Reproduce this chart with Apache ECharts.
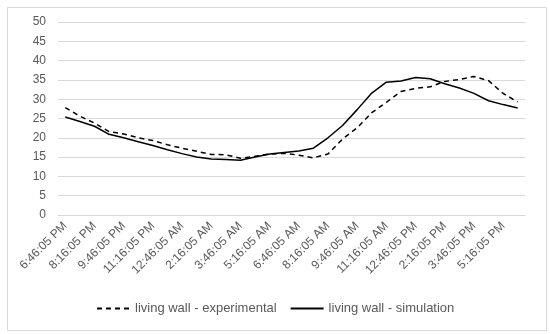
<!DOCTYPE html>
<html>
<head>
<meta charset="utf-8">
<script src="https://cdn.jsdelivr.net/npm/echarts@6/dist/echarts.min.js"></script>
<style>html,body{margin:0;padding:0;background:#fff}#c{width:550px;height:334px}</style>
</head>
<body>
<div id="c"></div>
<script>
const categories = [
  "6:46:05 PM","7:31:05 PM","8:16:05 PM","9:01:05 PM","9:46:05 PM","10:31:05 PM",
  "11:16:05 PM","12:01:05 AM","12:46:05 AM","1:31:05 AM","2:16:05 AM","3:01:05 AM",
  "3:46:05 AM","4:31:05 AM","5:16:05 AM","6:01:05 AM","6:46:05 AM","7:31:05 AM",
  "8:16:05 AM","9:01:05 AM","9:46:05 AM","10:31:05 AM","11:16:05 AM","12:01:05 PM",
  "12:46:05 PM","1:31:05 PM","2:16:05 PM","3:01:05 PM","3:46:05 PM","4:31:05 PM",
  "5:16:05 PM","6:01:05 PM"
];
const experimental = [
  27.8,25.6,23.8,21.6,21.0,20.0,19.3,18.2,17.3,16.5,15.7,15.6,
  14.7,15.2,15.8,16.0,15.5,14.8,15.8,19.7,22.6,26.5,29.2,32.0,
  32.8,33.2,34.6,35.1,35.9,34.8,31.5,29.3
];
const simulation = [
  25.4,24.2,23.0,20.9,20.0,19.0,18.0,16.9,15.9,15.0,14.5,14.4,
  14.2,15.0,15.8,16.2,16.6,17.3,20.0,23.2,27.3,31.6,34.4,34.7,
  35.6,35.3,34.0,32.9,31.5,29.6,28.6,27.7
];
const yTicks = {min: 0, max: 50, interval: 5};
const seriesNames = ["living wall - experimental", "living wall - simulation"];

const chart = echarts.init(document.getElementById('c'), null, {renderer: 'canvas'});
const txt = '#595959';
const font = 'Liberation Sans, Arial, sans-serif';
chart.setOption({
  animation: false,
  backgroundColor: '#fff',
  graphic: [{
    type: 'rect', left: 5, top: 5,
    shape: {width: 539, height: 323},
    style: {fill: 'none', stroke: '#d9d9d9', lineWidth: 1}
  }],
  grid: {left: 58, right: 25, top: 22, bottom: 119},
  legend: {
    bottom: 14, left: 91,
    itemWidth: 33, itemHeight: 10, itemGap: 13,
    textStyle: {color: txt, fontSize: 13, fontFamily: font},
    itemStyle: {opacity: 0},
    data: seriesNames
  },
  xAxis: {
    type: 'category', data: categories, boundaryGap: true,
    axisLine: {show: true, lineStyle: {color: '#d9d9d9'}},
    axisTick: {show: false},
    axisLabel: {interval: 1, rotate: 45, color: txt, fontSize: 12, fontFamily: font, margin: 9}
  },
  yAxis: {
    type: 'value', min: yTicks.min, max: yTicks.max, interval: yTicks.interval,
    axisLine: {show: false}, axisTick: {show: false},
    axisLabel: {color: txt, fontSize: 12, fontFamily: font, margin: 12},
    splitLine: {lineStyle: {color: '#d9d9d9', width: 1}}
  },
  series: [
    {name: seriesNames[0], type: 'line', data: experimental, symbol: 'none',
     lineStyle: {color: '#000', width: 1.5, type: [5, 4]}, itemStyle: {color: '#000'}},
    {name: seriesNames[1], type: 'line', data: simulation, symbol: 'none',
     lineStyle: {color: '#000', width: 1.5, type: 'solid'}, itemStyle: {color: '#000'}}
  ]
});
</script>
</body>
</html>
